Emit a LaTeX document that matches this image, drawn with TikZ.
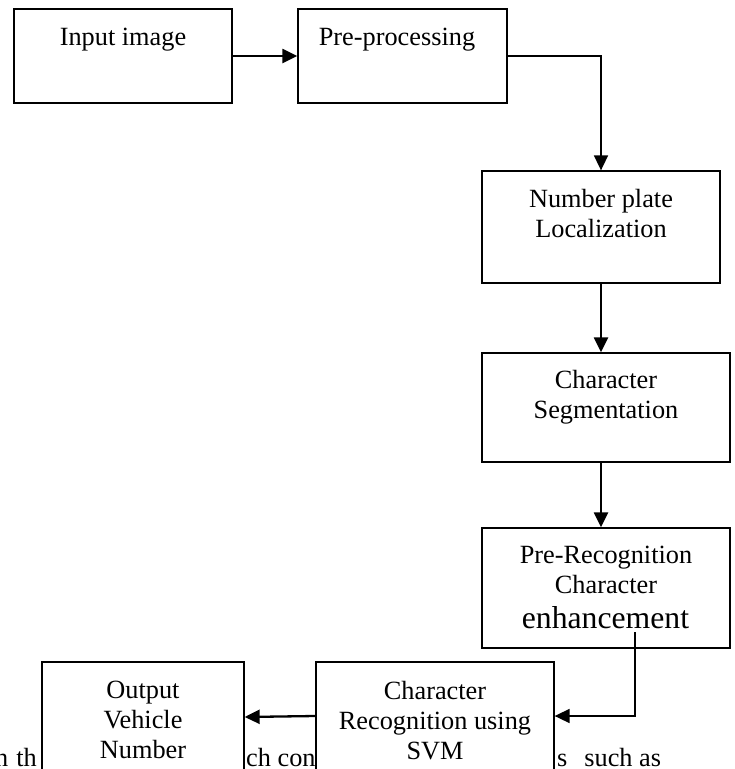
\documentclass[tikz,border=0pt]{standalone}
\usepackage{fontspec}
\setmainfont{Liberation Serif}
\usetikzlibrary{arrows.meta}
\begin{document}
\begin{tikzpicture}[x=1pt,y=-1pt,
  box/.style={draw,fill=white,line width=1.3pt,inner sep=0pt},
  lbl/.style={align=center,font=\fontsize{26.3}{30}\selectfont,inner sep=0pt,anchor=base},
  biglbl/.style={font=\fontsize{31.7}{35}\selectfont,inner sep=0pt,anchor=base},
  bgtext/.style={font=\fontsize{26.3}{30}\selectfont,inner sep=0pt,anchor=base west},
  conn/.style={line width=2.3pt,-{Triangle[length=15pt,width=14pt]}},
  connthin/.style={line width=1.7pt,-{Triangle[length=15pt,width=14pt]}}]
\useasboundingbox (0,0) rectangle (735,769);
\clip (0,0) rectangle (735,769);
% text of the page behind the figure
\node[bgtext] (bg1) at (-5,766) {n\hspace{8pt}th};
\node[bgtext] (bg2) at (246,766) {ch cont};
\node[bgtext] (bg3) at (557,766) {s\hspace{17pt}such as};
% boxes
\node[box,minimum width=218pt,minimum height=94pt] (b1) at (123,56) {};
\node[box,minimum width=209pt,minimum height=94pt] (b2) at (402.5,56) {};
\node[box,minimum width=238pt,minimum height=112pt] (b3) at (601,227) {};
\node[box,minimum width=248pt,minimum height=109pt] (b4) at (606,407.5) {};
\node[box,minimum width=248pt,minimum height=120pt] (b5) at (606,588) {};
\node[box,minimum width=238pt,minimum height=138pt] (b6) at (435,731) {};
\node[box,minimum width=202pt,minimum height=138pt] (b7) at (143,731) {};
% labels (anchor base = baseline of the last line)
\node[lbl] (t1) at (123,45) {Input image};
\node[lbl] (t2) at (397,45) {Pre-processing};
\node[lbl] (t3) at (601,237) {Number plate\\Localization};
\node[lbl] (t4) at (606,418) {Character\\Segmentation};
\node[lbl] (t5) at (606,593) {Pre-Recognition\\Character};
\node[biglbl] (t5b) at (605.5,628) {enhancement};
\node[lbl] (t6) at (435,759) {Character\\Recognition using\\SVM};
\node[lbl] (t7) at (143,758) {Output\\Vehicle\\Number};
% connectors
\draw[conn] (b1.east) -- (b2.west);
\draw[connthin] (b2.east) -| (b3.north);
\draw[conn] (b3.south) -- (b3.south |- b4.north);
\draw[conn] (b4.south -| b3.south) -- (b5.north -| b3.south);
\coordinate (c5) at (635,632);
\draw[connthin] (c5) |- ([yshift=15pt]b6.east);
\draw[conn] ([yshift=15pt]b6.west) -- ([yshift=14pt]b7.east);
\end{tikzpicture}
\end{document}
